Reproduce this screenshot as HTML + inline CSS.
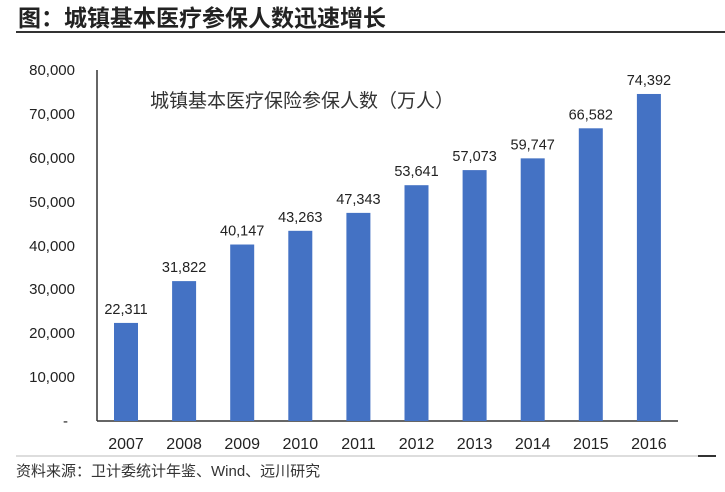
<!DOCTYPE html>
<html><head><meta charset="utf-8"><style>
body{margin:0;background:#fff;}
svg text{font-family:"Liberation Sans","Noto Sans CJK SC",sans-serif;}
</style></head><body>
<svg width="725" height="487" xmlns="http://www.w3.org/2000/svg">
<text x="18" y="26" font-size="23" font-weight="bold" fill="#222">图：城镇基本医疗参保人数迅速增长</text>
<line x1="16" y1="32" x2="725" y2="32" stroke="#333" stroke-width="2"/>
<g font-size="15" fill="#222" text-anchor="end">
<text x="75" y="75">80,000</text>
<text x="75" y="119">70,000</text>
<text x="75" y="163">60,000</text>
<text x="75" y="207">50,000</text>
<text x="75" y="251">40,000</text>
<text x="75" y="294">30,000</text>
<text x="75" y="338">20,000</text>
<text x="75" y="382">10,000</text>
<text x="68" y="426">-</text>
</g>
<line x1="97" y1="70" x2="97" y2="421" stroke="#333" stroke-width="1.5"/>
<line x1="97" y1="421" x2="678" y2="421" stroke="#333" stroke-width="1.5"/>
<text x="150" y="107" font-size="19" fill="#333">城镇基本医疗保险参保人数（万人）</text>
<g fill="#4472C4" id="bars"></g>
<g font-size="14.5" fill="#222" text-anchor="middle" id="vals"></g>
<g font-size="16" fill="#222" text-anchor="middle" id="yrs"></g>
<line x1="16" y1="456" x2="700" y2="456" stroke="#ddd" stroke-width="2"/>
<line x1="698" y1="456" x2="716" y2="456" stroke="#333" stroke-width="2"/>
<text x="16" y="476" font-size="15" fill="#333">资料来源：卫计委统计年鉴、Wind、远川研究</text>
<script>
var d=[22311,31822,40147,43263,47343,53641,57073,59747,66582,74392];
var b=document.getElementById('bars'),v=document.getElementById('vals'),y=document.getElementById('yrs');
var ns="http://www.w3.org/2000/svg";
d.forEach(function(n,i){
 var cx=126+i*58.1,h=n*0.004396,top=421-h;
 var r=document.createElementNS(ns,'rect');r.setAttribute('x',cx-12);r.setAttribute('y',top);r.setAttribute('width',24);r.setAttribute('height',h);b.appendChild(r);
 var t=document.createElementNS(ns,'text');t.setAttribute('x',cx);t.setAttribute('y',top-9);t.textContent=n.toLocaleString('en-US');v.appendChild(t);
 var u=document.createElementNS(ns,'text');u.setAttribute('x',cx);u.setAttribute('y',449);u.textContent=2007+i;y.appendChild(u);
});
</script>
</svg>
</body></html>
